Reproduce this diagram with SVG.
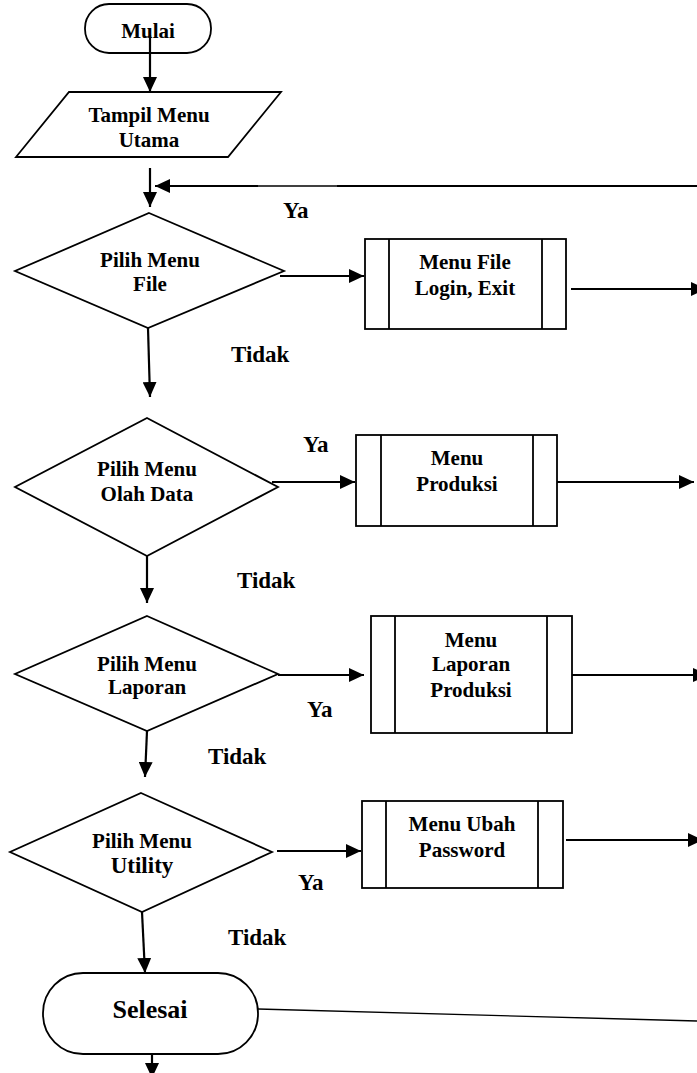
<svg xmlns="http://www.w3.org/2000/svg" width="697" height="1073" viewBox="0 0 697 1073">
<style>
.s{fill:#fff;stroke:#000;stroke-width:1.8}
.t{font-family:"Liberation Serif","Times New Roman",serif;font-weight:bold;font-size:21px;fill:#000;text-anchor:middle}
.l{font-family:"Liberation Serif","Times New Roman",serif;font-weight:bold;font-size:23px;fill:#000}
.c{fill:none;stroke:#000;stroke-width:2.2}
</style>
<defs>
<marker id="a" markerUnits="userSpaceOnUse" markerWidth="16" markerHeight="14" refX="15" refY="7" orient="auto"><path d="M0,0 L15,7 L0,14 z" fill="#000"/></marker>
</defs>
<rect width="697" height="1073" fill="#fff"/>
<g id="mulai"><rect class="s" x="85" y="4" width="126" height="49" rx="24"/><text class="t" x="148" y="38">Mulai</text></g>
<g id="tampil"><polygon class="s" points="69,92 281,92 228,157 16,157"/><text class="t" x="149" y="122">Tampil Menu</text><text class="t" x="149" y="147">Utama</text></g>
<g id="d1"><polygon class="s" points="149,213 284,271 148,328 15,271"/><text class="t" x="150" y="267">Pilih Menu</text><text class="t" x="150" y="291">File</text></g>
<g id="p1"><rect class="s" x="365" y="239" width="201" height="90"/><line class="s" x1="389" y1="239" x2="389" y2="329"/><line class="s" x1="542" y1="239" x2="542" y2="329"/><text class="t" x="465" y="269">Menu File</text><text class="t" x="465" y="295">Login, Exit</text></g>
<g id="d2"><polygon class="s" points="147,418 278,487 147,556 15,487"/><text class="t" x="147" y="476">Pilih Menu</text><text class="t" x="147" y="501">Olah Data</text></g>
<g id="p2"><rect class="s" x="356" y="435" width="201" height="91"/><line class="s" x1="381" y1="435" x2="381" y2="526"/><line class="s" x1="533" y1="435" x2="533" y2="526"/><text class="t" x="457" y="465">Menu</text><text class="t" x="457" y="491">Produksi</text></g>
<g id="d3"><polygon class="s" points="147,616 278,674 147,731 15,674"/><text class="t" x="147" y="671">Pilih Menu</text><text class="t" x="147" y="694">Laporan</text></g>
<g id="p3"><rect class="s" x="371" y="616" width="201" height="117"/><line class="s" x1="395" y1="616" x2="395" y2="733"/><line class="s" x1="547" y1="616" x2="547" y2="733"/><text class="t" x="471" y="647">Menu</text><text class="t" x="471" y="671">Laporan</text><text class="t" x="471" y="697">Produksi</text></g>
<g id="d4"><polygon class="s" points="141,793 272,852 142,912 10,852"/><text class="t" x="142" y="848">Pilih Menu</text><text class="t" x="142" y="873" style="font-size:23px">Utility</text></g>
<g id="p4"><rect class="s" x="362" y="801" width="201" height="87"/><line class="s" x1="386" y1="801" x2="386" y2="888"/><line class="s" x1="538" y1="801" x2="538" y2="888"/><text class="t" x="462" y="831">Menu Ubah</text><text class="t" x="462" y="857">Password</text></g>
<g id="selesai"><rect class="s" x="43" y="973" width="215" height="81" rx="40"/><text class="t" x="150" y="1018" style="font-size:26px">Selesai</text></g>
<g id="connectors">
<line class="c" x1="150" y1="35" x2="150" y2="92" marker-end="url(#a)"/>
<line class="c" x1="150" y1="168" x2="150" y2="207" marker-end="url(#a)"/>
<line class="c" x1="697" y1="186" x2="337" y2="186"/>
<line x1="337" y1="186" x2="258" y2="186" stroke="#000" stroke-width="1.3"/>
<line class="c" x1="258" y1="186" x2="155" y2="186" marker-end="url(#a)"/>
<line class="c" x1="280" y1="276" x2="364" y2="276" marker-end="url(#a)"/>
<line class="c" x1="571" y1="289" x2="706" y2="289" marker-end="url(#a)"/>
<line class="c" x1="148" y1="328" x2="150" y2="397" marker-end="url(#a)"/>
<line class="c" x1="272" y1="482" x2="355" y2="482" marker-end="url(#a)"/>
<line class="c" x1="557" y1="482" x2="694" y2="482" marker-end="url(#a)"/>
<line class="c" x1="147" y1="556" x2="147" y2="603" marker-end="url(#a)"/>
<line class="c" x1="278" y1="675" x2="364" y2="675" marker-end="url(#a)"/>
<line class="c" x1="572" y1="675" x2="708" y2="675" marker-end="url(#a)"/>
<line class="c" x1="147" y1="731" x2="145" y2="777" marker-end="url(#a)"/>
<line class="c" x1="277" y1="851" x2="361" y2="851" marker-end="url(#a)"/>
<line class="c" x1="566" y1="840" x2="703" y2="840" marker-end="url(#a)"/>
<line class="c" x1="142" y1="912" x2="145" y2="973" marker-end="url(#a)"/>
<line x1="258" y1="1009" x2="697" y2="1021" stroke="#000" stroke-width="1.4"/>
<line class="c" x1="152" y1="1054" x2="152" y2="1078" marker-end="url(#a)"/>
</g>
<text class="l" x="283" y="218">Ya</text>
<text class="l" x="231" y="362">Tidak</text>
<text class="l" x="303" y="452">Ya</text>
<text class="l" x="237" y="588">Tidak</text>
<text class="l" x="307" y="717">Ya</text>
<text class="l" x="208" y="764">Tidak</text>
<text class="l" x="298" y="890">Ya</text>
<text class="l" x="228" y="945">Tidak</text>
</svg>
